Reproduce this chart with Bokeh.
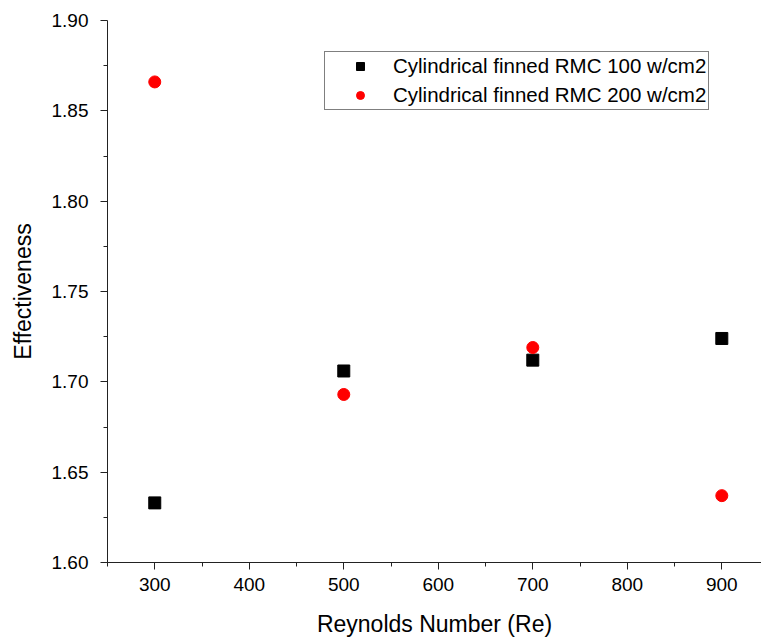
from bokeh.plotting import figure
from bokeh.models import Range1d, Legend, LegendItem, NumeralTickFormatter, FixedTicker, ColumnDataSource
from bokeh.embed import file_html
from bokeh.resources import INLINE

# Data
reynolds = [300, 500, 700, 900]
eff_100 = [1.633, 1.706, 1.712, 1.724]
eff_200 = [1.866, 1.693, 1.719, 1.637]
series_labels = ["Cylindrical finned RMC 100 w/cm2", "Cylindrical finned RMC 200 w/cm2"]
x_ticks = [300, 400, 500, 600, 700, 800, 900]
y_ticks = [1.60, 1.65, 1.70, 1.75, 1.80, 1.85, 1.90]

FONT = "Liberation Sans"

p = figure(width=761, height=639, output_backend="svg", toolbar_location=None,
           x_range=Range1d(250, 942), y_range=Range1d(1.60, 1.90),
           min_border_left=107, min_border_top=20, min_border_right=0, min_border_bottom=77,
           frame_width=654, frame_height=542)
p.background_fill_color = "white"
p.border_fill_color = "white"
p.outline_line_color = None
p.xgrid.visible = False
p.ygrid.visible = False

src1 = ColumnDataSource(dict(x=reynolds, y=eff_100))
src2 = ColumnDataSource(dict(x=reynolds, y=eff_200))
r1 = p.scatter("x", "y", source=src1, marker="square", size=12, fill_color="black", line_color="black")
r2 = p.scatter("x", "y", source=src2, marker="circle", size=12, fill_color="#ff0000", line_color="#ff0000")

for ax in (p.xaxis[0], p.yaxis[0]):
    ax.axis_line_color = "#222222"
    ax.axis_line_width = 1
    ax.major_tick_line_color = "#222222"
    ax.minor_tick_line_color = "#222222"
    ax.major_tick_in = 0
    ax.minor_tick_in = 0
    ax.major_tick_out = 7
    ax.minor_tick_out = 4
    ax.major_label_text_font = FONT
    ax.major_label_text_font_size = "19px"
    ax.major_label_text_color = "black"
    ax.axis_label_text_font = FONT
    ax.axis_label_text_font_size = "23px"
    ax.axis_label_text_font_style = "normal"
    ax.axis_label_text_color = "black"

p.xaxis.ticker = FixedTicker(ticks=x_ticks, minor_ticks=[250 + 50 * i for i in range(15)])
p.yaxis.ticker = FixedTicker(ticks=y_ticks, minor_ticks=[1.60 + 0.025 * i for i in range(13)])
p.yaxis.formatter = NumeralTickFormatter(format="0.00")
p.xaxis.axis_label = "Reynolds Number (Re)"
p.yaxis.axis_label = "Effectiveness"
p.xaxis.major_label_standoff = 8
p.yaxis.major_label_standoff = 12
p.xaxis.axis_label_standoff = 17
p.yaxis.axis_label_standoff = 13

legend = Legend(items=[LegendItem(label=series_labels[0], renderers=[r1]),
                       LegendItem(label=series_labels[1], renderers=[r2])],
                location=(217, 452), orientation="vertical")
legend.border_line_color = "black"
legend.border_line_width = 1
legend.background_fill_color = "white"
legend.background_fill_alpha = 1
legend.label_text_font = FONT
legend.label_text_font_size = "20.5px"
legend.label_text_color = "black"
legend.glyph_width = 66
legend.glyph_height = 20
legend.label_height = 20
legend.label_standoff = 0
legend.padding = 2
legend.spacing = 5
legend.margin = 0
p.add_layout(legend, "center")

open("out.html", "w").write(file_html(p, INLINE))
